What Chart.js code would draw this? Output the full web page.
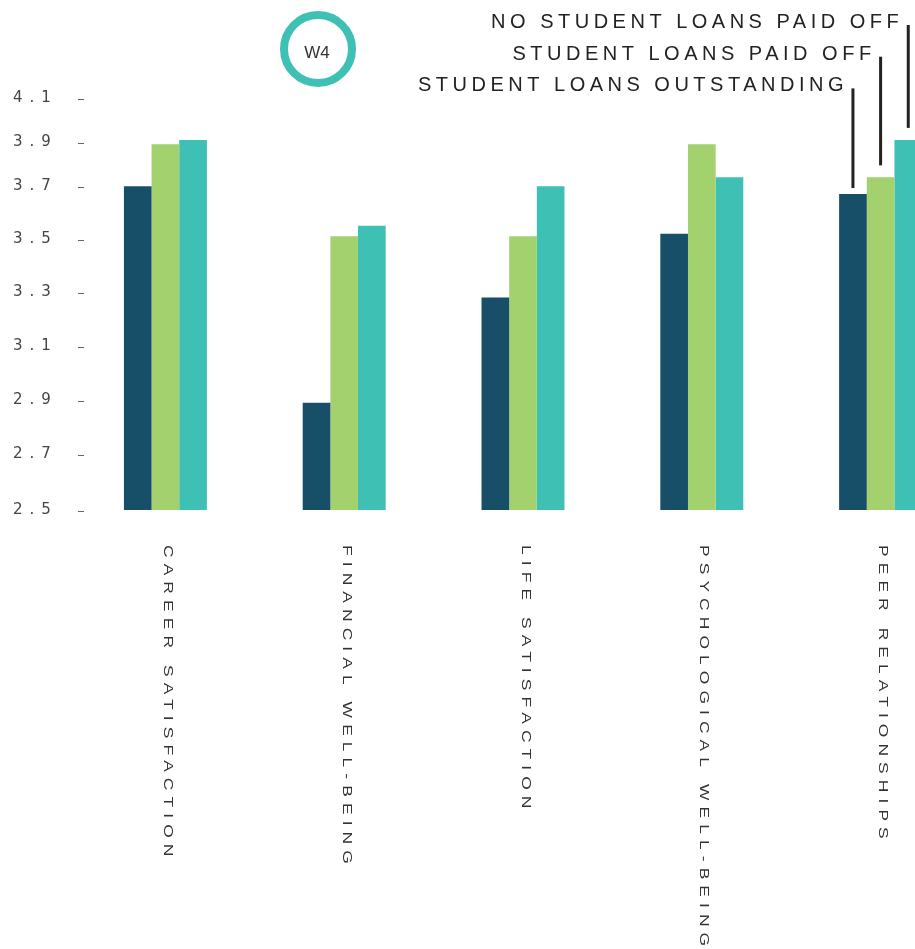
<!DOCTYPE html>
<html>
<head>
<meta charset="utf-8">
<script src="https://cdn.jsdelivr.net/npm/chart.js@4/dist/chart.umd.min.js"></script>
<style>
  html, body { margin: 0; padding: 0; background: #fff; overflow: hidden; }
  #wrap { width: 980px; height: 949px; }
</style>
</head>
<body>
<div id="wrap"><canvas id="chart" width="980" height="949"></canvas></div>
<script>
const categories = ['CAREER SATISFACTION', 'FINANCIAL WELL-BEING', 'LIFE SATISFACTION', 'PSYCHOLOGICAL WELL-BEING', 'PEER RELATIONSHIPS'];
const seriesNames = ['STUDENT LOANS OUTSTANDING', 'STUDENT LOANS PAID OFF', 'NO STUDENT LOANS PAID OFF'];
const outstanding = [3.70, 2.89, 3.28, 3.52, 3.67];
const paidOff = [3.89, 3.51, 3.51, 3.89, 3.74];
const noLoans = [3.91, 3.55, 3.70, 3.74, 3.91];
const yTicks = [2.5, 2.7, 2.9, 3.1, 3.3, 3.5, 3.7, 3.9, 4.1];
const badge = 'W4';

// the source axis is not evenly spaced: where each tick sits along the axis (0 = bottom, 1 = top)
const yTickFrac = [0, 0.136, 0.267, 0.398, 0.529, 0.658, 0.786, 0.893, 1];

const colors = ['#174f69', '#a3d16e', '#3ec0b5'];
const labelFont = '"Liberation Sans", Arial, sans-serif';

class SteppedScale extends Chart.LinearScale {
    getPixelForValue(v) {
        let i = 1;
        while (i < yTicks.length - 1 && v > yTicks[i]) i++;
        const t = (v - yTicks[i - 1]) / (yTicks[i] - yTicks[i - 1]);
        return this.getPixelForDecimal(yTickFrac[i - 1] + t * (yTickFrac[i] - yTickFrac[i - 1]));
    }
    getValueForPixel(p) {
        const d = this.getDecimalForPixel(p);
        let i = 1;
        while (i < yTickFrac.length - 1 && d > yTickFrac[i]) i++;
        const t = (d - yTickFrac[i - 1]) / (yTickFrac[i] - yTickFrac[i - 1]);
        return yTicks[i - 1] + t * (yTicks[i] - yTicks[i - 1]);
    }
}
SteppedScale.id = 'stepped';
SteppedScale.defaults = Chart.LinearScale.defaults;
Chart.register(SteppedScale);

const decor = {
    id: 'decor',
    beforeDraw(chart) { chart.ctx.letterSpacing = '7px'; },
    beforeDatasetsDraw(chart) { chart.ctx.letterSpacing = '0px'; },
    afterDraw(chart) {
        const { ctx, chartArea, scales: { x, y } } = chart;
        ctx.save();

        // little dashes next to the y labels
        ctx.fillStyle = '#666';
        y.ticks.forEach(t => {
            ctx.fillRect(chartArea.left + 2, Math.round(y.getPixelForValue(t.value)) + 1, 6, 1);
        });

        // category labels, turned clockwise
        ctx.fillStyle = '#333';
        ctx.font = '12px ' + labelFont;
        ctx.letterSpacing = '4.2px';
        ctx.textAlign = 'left';
        ctx.textBaseline = 'alphabetic';
        categories.forEach((c, i) => {
            ctx.save();
            ctx.translate(x.getPixelForValue(i) - 1.5, chartArea.bottom + 35);
            ctx.rotate(Math.PI / 2);
            ctx.scale(1.45, 1);
            ctx.fillText(c, 0, 0);
            ctx.restore();
        });

        // legend with leader lines to the last group
        ctx.font = '20px ' + labelFont;
        ctx.letterSpacing = '4.5px';
        ctx.textAlign = 'right';
        ctx.fillStyle = '#222';
        const last = categories.length - 1;
        seriesNames.forEach((name, i) => {
            const bar = chart.getDatasetMeta(i).data[last];
            const base = 28 + (seriesNames.length - 1 - i) * 31.7;
            ctx.fillText(name, bar.x - 5, base);
            const gap = i === 0 ? 6 : 12;
            ctx.fillRect(bar.x - 1.5, base - 3, 3, bar.y - gap - (base - 3));
        });

        // W4 badge
        ctx.letterSpacing = '0px';
        ctx.beginPath();
        ctx.arc(318, 49, 34, 0, Math.PI * 2);
        ctx.lineWidth = 8;
        ctx.strokeStyle = colors[2];
        ctx.stroke();
        ctx.font = '17px ' + labelFont;
        ctx.textAlign = 'center';
        ctx.textBaseline = 'middle';
        ctx.fillStyle = '#333';
        ctx.fillText(badge, 317, 53);

        ctx.restore();
    }
};

new Chart(document.getElementById('chart'), {
    type: 'bar',
    data: {
        labels: categories,
        datasets: [
            { label: seriesNames[0], data: outstanding, backgroundColor: colors[0] },
            { label: seriesNames[1], data: paidOff, backgroundColor: colors[1] },
            { label: seriesNames[2], data: noLoans, backgroundColor: colors[2] }
        ]
    },
    options: {
        responsive: false,
        animation: false,
        devicePixelRatio: 1,
        layout: { padding: { left: 13, top: 98, right: 10, bottom: 439 } },
        datasets: { bar: { categoryPercentage: 0.464, barPercentage: 1, borderWidth: 0 } },
        plugins: { legend: { display: false }, tooltip: { enabled: false } },
        scales: {
            x: { display: false },
            y: {
                type: 'stepped',
                min: 2.5,
                max: 4.1,
                afterFit: s => { s.width = 63; },
                afterBuildTicks: s => { s.ticks = yTicks.map(v => ({ value: v })); },
                grid: { display: false },
                border: { display: false },
                ticks: {
                    crossAlign: 'far',
                    padding: 0,
                    color: '#444',
                    font: { family: '"DejaVu Sans", sans-serif', size: 15 },
                    callback: v => v.toFixed(1)
                }
            }
        }
    },
    plugins: [decor]
});
</script>
</body>
</html>
